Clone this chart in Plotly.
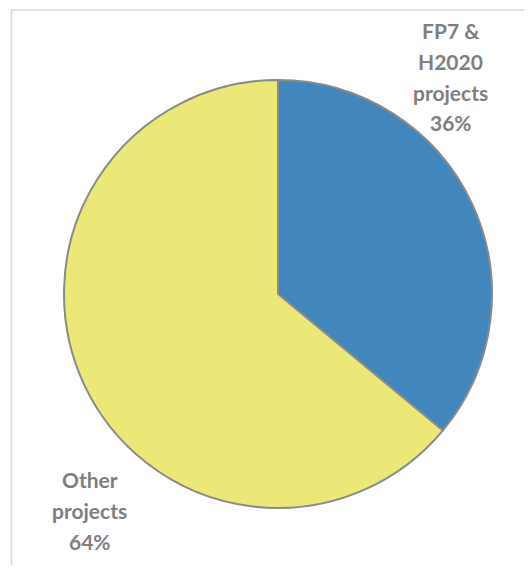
import plotly.graph_objects as go

labels = ["FP7 & H2020 projects", "Other projects"]
values = [36, 64]
colors = ["#4187BE", "#EBE878"]
label_lines = [["FP7 &", "H2020", "projects"], ["Other", "projects"]]

OFF = 8  # page body margin
W, H = 532 - 2 * OFF, 573 - 2 * OFF
cx, cy, r = 278 - OFF, 294 - OFF, 214

fig = go.Figure(go.Pie(
    labels=labels, values=values, sort=False, direction="clockwise", rotation=0,
    marker=dict(colors=colors, line=dict(color="#8a8a8a", width=2)),
    textinfo="none", hoverinfo="label+percent", showlegend=False,
    domain=dict(x=[(cx - r) / W, (cx + r) / W], y=[1 - (cy + r) / H, 1 - (cy - r) / H]),
))

total = sum(values)
label_pos = [(450.5, [38, 69, 99.5, 130]), (89.5, [487, 518, 549])]
anns = []
for lines, v, (x, baselines) in zip(label_lines, values, label_pos):
    all_lines = lines + [f"{round(100 * v / total)}%"]
    for t, b in zip(all_lines, baselines):
        anns.append(dict(
            text=f"<b>{t}</b>", x=(x - OFF) / W, y=1 - (b - 7.5 - OFF) / H,
            xref="paper", yref="paper",
            xanchor="center", yanchor="middle", showarrow=False,
            font=dict(family="Lato", size=21, color="#7f7f7f"),
        ))

fig.update_layout(
    width=W, height=H, margin=dict(l=0, r=0, t=0, b=0),
    paper_bgcolor="white", plot_bgcolor="white",
    annotations=anns,
    shapes=[dict(type="rect", xref="paper", yref="paper",
                 x0=(11.5 - OFF) / W, x1=1.2, y0=-0.2, y1=1 - (10 - OFF) / H,
                 line=dict(color="#d9d9d9", width=1.5), fillcolor="rgba(0,0,0,0)", layer="below")],
)
fig.write_html("out.html")
